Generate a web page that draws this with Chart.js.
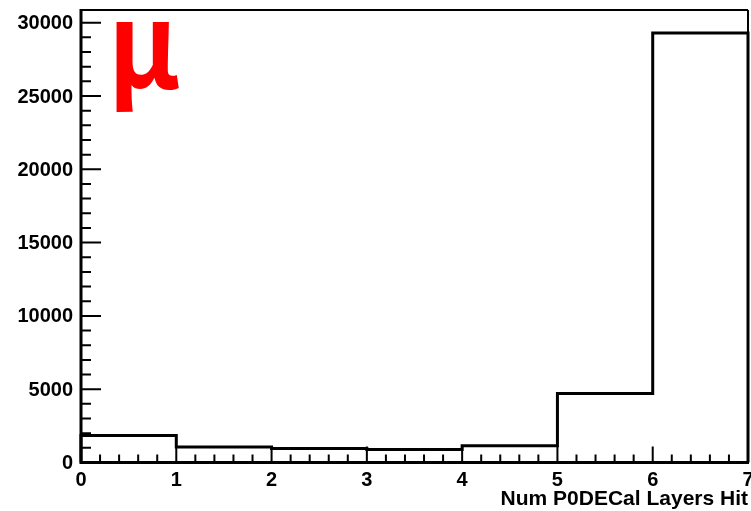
<!DOCTYPE html>
<html>
<head>
<meta charset="utf-8">
<script src="https://cdn.jsdelivr.net/npm/chart.js@4/dist/chart.umd.min.js"></script>
<style>
  html, body { margin: 0; padding: 0; background: #fff; }
  canvas { display: block; }
</style>
</head>
<body>
<canvas id="hist" width="751" height="511"></canvas>
<script>
// Histogram of the number of P0DECal layers hit (muon sample)
const binEdges = [0, 1, 2, 3, 4, 5, 6, 7];
const binCounts = [1850, 1050, 950, 880, 1150, 4700, 29300];
const yTickValues = [0, 5000, 10000, 15000, 20000, 25000, 30000];
const yTickLabels = ['0', '5000', '10000', '15000', '20000', '25000', '30000'];
const xTickValues = [0, 1, 2, 3, 4, 5, 6, 7];
const xTickLabels = ['0', '1', '2', '3', '4', '5', '6', '7'];
const xTitle = 'Num P0DECal Layers Hit';
const particleLabel = 'μ';

// Outline of the histogram: start on the axis, step across each bin, drop back to zero
const outline = [{ x: binEdges[0], y: 0 }];
binCounts.forEach((c, i) => outline.push({ x: binEdges[i], y: c }));
outline.push({ x: binEdges[binEdges.length - 1], y: binCounts[binCounts.length - 1] });
outline.push({ x: binEdges[binEdges.length - 1], y: 0 });

const LABEL_FONT = 'bold 20px "Liberation Sans", Arial, sans-serif';
const TITLE_FONT = 'bold 21px "Liberation Sans", Arial, sans-serif';

const frameAxes = {
  id: 'frameAxes',
  afterDatasetsDraw(chart) {
    const ctx = chart.ctx;
    const { left, right, top, bottom } = chart.chartArea;
    const xs = chart.scales.x, ys = chart.scales.y;
    ctx.save();
    ctx.strokeStyle = '#000';
    ctx.lineCap = 'butt';

    // frame top and right
    ctx.lineWidth = 2;
    ctx.beginPath();
    ctx.moveTo(left, top); ctx.lineTo(right, top);
    ctx.moveTo(right, top); ctx.lineTo(right, bottom);
    ctx.stroke();

    // y axis minor ticks (every 1000) and major ticks
    ctx.lineWidth = 2;
    ctx.beginPath();
    for (let v = 0; v <= ys.max; v += 1000) {
      const py = ys.getPixelForValue(v);
      const len = (v % 5000 === 0) ? 20 : 10;
      ctx.moveTo(left, py); ctx.lineTo(left + len, py);
    }
    // x axis minor ticks (every 0.2) and major ticks
    for (let k = 0; k <= 35; k++) {
      const v = k * 0.2;
      const px = xs.getPixelForValue(v);
      const len = (k % 5 === 0) ? 16 : 8;
      ctx.moveTo(px, bottom); ctx.lineTo(px, bottom - len);
    }
    ctx.stroke();

    // axis lines
    ctx.lineWidth = 3;
    ctx.beginPath();
    ctx.moveTo(left, top - 1); ctx.lineTo(left, bottom + 1.5);
    ctx.moveTo(left - 1.5, bottom); ctx.lineTo(right + 1, bottom);
    ctx.stroke();

    // tick labels
    ctx.fillStyle = '#000';
    ctx.font = LABEL_FONT;
    ctx.textAlign = 'right';
    ctx.textBaseline = 'middle';
    yTickValues.forEach((v, i) => {
      ctx.fillText(yTickLabels[i], left - 8, ys.getPixelForValue(v) + 1);
    });
    ctx.textAlign = 'center';
    ctx.textBaseline = 'top';
    xTickValues.forEach((v, i) => {
      ctx.fillText(xTickLabels[i], xs.getPixelForValue(v), bottom + 8);
    });

    // axis title
    ctx.font = TITLE_FONT;
    ctx.textAlign = 'right';
    ctx.textBaseline = 'alphabetic';
    ctx.fillText(xTitle, right, 505);

    // particle label, slightly narrowed
    ctx.fillStyle = '#ff0000';
    ctx.font = 'bold 118px "Noto Sans CJK JP", sans-serif';
    ctx.textAlign = 'left';
    ctx.translate(108, 88);
    ctx.scale(0.92, 1);
    ctx.fillText(particleLabel, 0, 0);
    ctx.restore();
  }
};

new Chart(document.getElementById('hist'), {
  type: 'line',
  data: {
    datasets: [{
      data: outline,
      stepped: 'before',
      borderColor: '#000',
      borderWidth: 3,
      borderJoinStyle: 'miter',
      borderCapStyle: 'butt',
      pointRadius: 0,
      fill: false,
      clip: false
    }]
  },
  options: {
    responsive: false,
    animation: false,
    layout: { padding: { left: 81, right: 3, top: 10, bottom: 48.5 } },
    plugins: { legend: { display: false }, tooltip: { enabled: false } },
    scales: {
      x: { type: 'linear', min: 0, max: 7, display: false },
      y: { type: 'linear', min: 0, max: 30866, display: false }
    }
  },
  plugins: [frameAxes]
});
</script>
</body>
</html>
